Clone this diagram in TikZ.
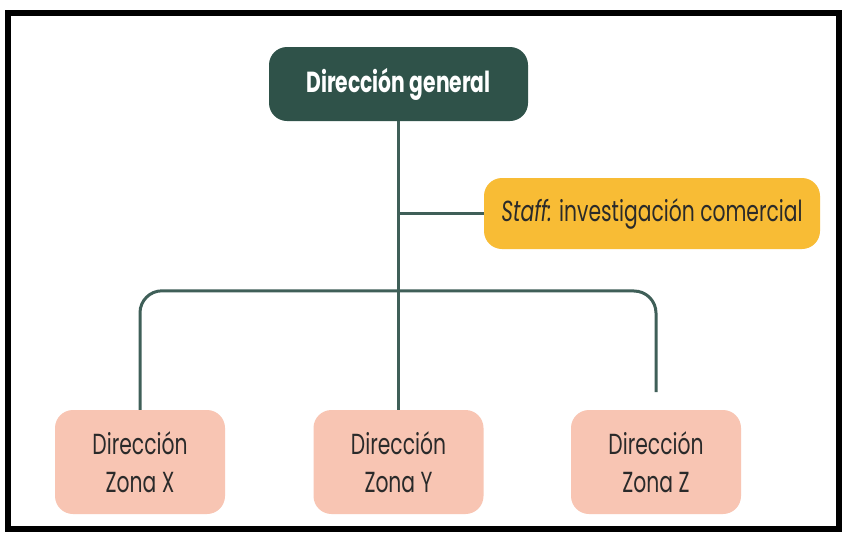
\documentclass[tikz,border=0pt]{standalone}
\usepackage{fontspec}
\setmainfont{Poppins}[FakeStretch=0.7]
\usepackage{tikz}
\usetikzlibrary{calc, positioning}

\definecolor{darkgreen}{HTML}{2F5249}
\definecolor{linegreen}{HTML}{3F5F58}
\definecolor{staffyellow}{HTML}{F8BC35}
\definecolor{zonepink}{HTML}{F8C5B3}
\definecolor{textgray}{HTML}{2A2A2A}

\begin{document}
\begin{tikzpicture}[x=1pt, y=-1pt,
    box/.style={rounded corners=18pt, align=center, inner sep=0pt,
      font=\fontsize{29}{38}\selectfont},
    headbox/.style={box, fill=darkgreen, text=white, minimum width=259pt,
      minimum height=74pt, font=\fontsize{29}{38}\selectfont\bfseries},
    staffbox/.style={box, fill=staffyellow, text=textgray,
      minimum width=336pt, minimum height=71pt},
    zonebox/.style={box, fill=zonepink, text=textgray,
      minimum width=170pt, minimum height=104pt},
    link/.style={linegreen, line width=3pt}]
  % frame
  \fill [white] (0,0) rectangle (843,533);
  \draw [line width=6pt] (8,13) rectangle (839,529);
  % boxes
  \node (gen) at (398.5,84) [headbox] {Dirección general};
  \node (staff) at (652,213.5) [staffbox] {\textit{Staff:} investigación comercial};
  \node (zx) at (140,462) [zonebox] {Dirección\\Zona X};
  \node (zy) at (398.5,462) [zonebox] {Dirección\\Zona Y};
  \node (zz) at (656,462) [zonebox] {Dirección\\Zona Z};
  % lines
  \coordinate (branch) at (gen.south |- staff.west);
  \coordinate (zzend) at (656,392);
  \draw [link] (gen.south) -- (zy.north);
  \draw [link] (branch) -- (staff.west);
  \draw [link, rounded corners=22pt] (zx.north) -- ($(zx.north)+(0,-119)$)
    -- ($(zzend)+(0,-101)$) -- (zzend);
\end{tikzpicture}
\end{document}
